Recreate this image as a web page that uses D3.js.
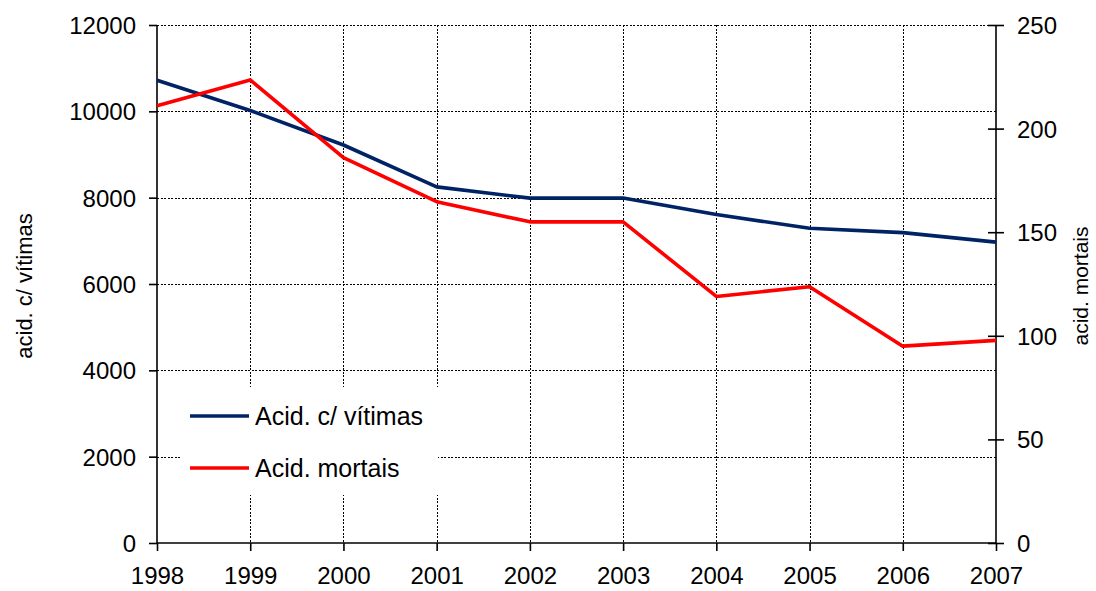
<!DOCTYPE html>
<html lang="pt">
<head>
  <meta charset="UTF-8"/>
  <title>Acidentes 1998-2007</title>
  <style>
    *{margin:0;padding:0}
    body{background:#fff;font-family:"Liberation Sans",Arial,sans-serif}
    svg text{fill:#000}
  </style>
</head>
<body>
  <div id="chart"></div>
  <script src="https://d3js.org/d3.v7.min.js"></script>
  <script>
    // data
    const years = [1998,1999,2000,2001,2002,2003,2004,2005,2006,2007];
    const vitimas = [10720,10020,9220,8250,7990,7990,7610,7290,7190,6970]; // left axis
    const mortais = [211,223.5,186,164.7,155,155,119,123.7,95,97.8];      // right axis
    const leftTicks = [0,2000,4000,6000,8000,10000,12000];
    const rightTicks = [0,50,100,150,200,250];
    const seriesNames = ['Acid. c/ vítimas','Acid. mortais'];
    const colors = { vit:'#002366', mort:'#ff0000' };

    const W=1096, H=591;
    const m = { left:157, right:100, top:25, bottom:48 };

    const svg = d3.select('#chart').append('svg')
      .attr('width',W).attr('height',H);

    const x = d3.scalePoint().domain(years).range([m.left, W-m.right]);
    const yL = d3.scaleLinear().domain([0,12000]).range([H-m.bottom, m.top]);
    const yR = d3.scaleLinear().domain([0,250]).range([H-m.bottom, m.top]);

    // grid (dotted)
    const grid = svg.append('g').attr('stroke','#000').attr('stroke-width',1)
      .attr('stroke-dasharray','2,1.5').attr('shape-rendering','crispEdges');
    grid.selectAll('line.h').data(leftTicks.slice(1)).join('line')
      .attr('x1',m.left).attr('x2',W-m.right)
      .attr('y1',d=>Math.round(yL(d))+.5).attr('y2',d=>Math.round(yL(d))+.5);
    grid.selectAll('line.v').data(years.slice(1,-1)).join('line')
      .attr('y1',m.top).attr('y2',H-m.bottom)
      .attr('x1',d=>Math.round(x(d))+.5).attr('x2',d=>Math.round(x(d))+.5);

    // legend box hides the grid underneath
    const lg = svg.append('g');
    lg.append('rect').attr('x',182).attr('y',387).attr('width',256).attr('height',108).attr('fill','#fff');

    // axes
    const fs = '24px';
    const axL = svg.append('g').attr('transform',`translate(${m.left},0)`)
      .call(d3.axisLeft(yL).tickValues(leftTicks).tickSize(8).tickPadding(13).tickFormat(d3.format('d')));
    const axR = svg.append('g').attr('transform',`translate(${W-m.right},0)`)
      .call(d3.axisRight(yR).tickValues(rightTicks).tickSize(8).tickPadding(13));
    axR.selectAll('.tick line').attr('x1',-8);
    const axB = svg.append('g').attr('transform',`translate(0,${H-m.bottom})`)
      .call(d3.axisBottom(x).tickSize(8).tickPadding(13));
    [axL,axR,axB].forEach(a=>{
      a.selectAll('text').style('font-size',fs).style('font-family','"Liberation Sans",Arial,sans-serif');
      a.selectAll('line,path').attr('stroke','#000').attr('stroke-width',1.6);
      a.select('.domain').attr('d', null);
    });
    axB.selectAll('text').attr('dy','0.85em');
    axL.selectAll('text').attr('dy','0.35em');
    axR.selectAll('text').attr('dy','0.35em');

    // axis lines
    const frame = svg.append('g').attr('stroke','#000').attr('stroke-width',1.6);
    frame.append('line').attr('x1',m.left).attr('x2',m.left).attr('y1',m.top).attr('y2',H-m.bottom);
    frame.append('line').attr('x1',W-m.right).attr('x2',W-m.right).attr('y1',m.top).attr('y2',H-m.bottom);
    frame.append('line').attr('x1',m.left).attr('x2',W-m.right).attr('y1',H-m.bottom).attr('y2',H-m.bottom);

    // axis titles
    svg.append('text').attr('transform',`translate(32,286) rotate(-90)`)
      .attr('text-anchor','middle').style('font-size','22px').text('acid. c/ vítimas');
    svg.append('text').attr('transform',`translate(1088,286) rotate(-90)`)
      .attr('text-anchor','middle').style('font-size','21px').text('acid. mortais');

    // lines
    const lineL = d3.line().x((d,i)=>x(years[i])).y(d=>yL(d));
    const lineR = d3.line().x((d,i)=>x(years[i])).y(d=>yR(d));
    svg.append('path').datum(vitimas).attr('d',lineL).attr('fill','none')
      .attr('stroke',colors.vit).attr('stroke-width',3.6).attr('stroke-linejoin','round');
    svg.append('path').datum(mortais).attr('d',lineR).attr('fill','none')
      .attr('stroke',colors.mort).attr('stroke-width',3.6).attr('stroke-linejoin','round');

    // legend entries
    [colors.vit, colors.mort].forEach((c,i)=>{
      const y = 416 + i*52;
      lg.append('line').attr('x1',190).attr('x2',249).attr('y1',y).attr('y2',y)
        .attr('stroke',c).attr('stroke-width',3.6);
      lg.append('text').attr('x',255).attr('y',y).attr('dy','0.35em')
        .style('font-size','25px').text(seriesNames[i]);
    });
  </script>
</body>
</html>
